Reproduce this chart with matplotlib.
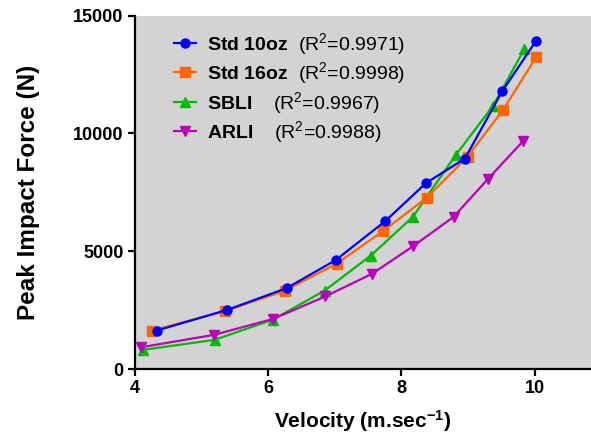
import matplotlib
matplotlib.use("Agg")
import matplotlib.pyplot as plt

plt.rcParams['font.family'] = ['Liberation Sans', 'DejaVu Sans']
plt.rcParams['mathtext.fontset'] = 'custom'
plt.rcParams['mathtext.rm'] = 'Liberation Sans'
plt.rcParams['mathtext.bf'] = 'Liberation Sans:bold'
plt.rcParams['mathtext.it'] = 'Liberation Sans:italic'

std10_v = [4.33, 5.39, 6.28, 7.02, 7.76, 8.37, 8.95, 9.51, 10.02]
std10_f = [1640, 2520, 3440, 4640, 6290, 7900, 8930, 11790, 13940]
std16_v = [4.26, 5.36, 6.25, 7.03, 7.72, 8.38, 8.99, 9.52, 10.02]
std16_f = [1640, 2470, 3330, 4480, 5850, 7280, 9010, 10990, 13240]
sbli_v = [4.12, 5.20, 6.07, 6.85, 7.54, 8.17, 8.81, 9.37, 9.84]
sbli_f = [820, 1250, 2100, 3340, 4820, 6460, 9070, 11160, 13570]
arli_v = [4.09, 5.19, 6.07, 6.86, 7.56, 8.17, 8.78, 9.29, 9.82]
arli_f = [930, 1460, 2130, 3090, 4050, 5210, 6460, 8050, 9670]

labels = [r"$\mathbf{Std\ 10oz}$  (R$^{2}$=0.9971)",
          r"$\mathbf{Std\ 16oz}$  (R$^{2}$=0.9998)",
          r"$\mathbf{SBLI}$    (R$^{2}$=0.9967)",
          r"$\mathbf{ARLI}$    (R$^{2}$=0.9988)"]
xticks = [4, 6, 8, 10]
yticks = [0, 5000, 10000, 15000]

fig = plt.figure(figsize=(5.91, 4.34), dpi=100)
ax = fig.add_axes([134.5/591, 1 - 369.3/434, 1 - 134.5/591, (369.3 - 15.5)/434])
ax.set_facecolor('#d3d3d3')

ax.plot(std10_v, std10_f, color='#0000ff', marker='o', ms=6.5, lw=1.6, label=labels[0], zorder=5)
ax.plot(std16_v, std16_f, color='#ff6600', marker='s', ms=6.5, lw=1.6, label=labels[1], zorder=4)
ax.plot(sbli_v, sbli_f, color='#00bb00', marker='^', ms=6.5, lw=1.6, label=labels[2], zorder=3)
ax.plot(arli_v, arli_f, color='#bb00bb', marker='v', ms=6.5, lw=1.6, label=labels[3], zorder=3)

ax.set_xlim(4, 10.84)
ax.set_ylim(0, 15000)
ax.set_xticks(xticks)
ax.set_yticks(yticks)
for s in ['top', 'right']:
    ax.spines[s].set_visible(False)
for s in ['left', 'bottom']:
    ax.spines[s].set_linewidth(1.6)
ax.tick_params(direction='out', length=5, width=1.6, pad=3)
for lab in ax.get_xticklabels() + ax.get_yticklabels():
    lab.set_fontweight('bold')
    lab.set_fontsize(13)

ax.set_xlabel(r"Velocity (m.sec$^{\mathbf{-1}}$)", fontsize=15, fontweight='bold', labelpad=8)
ax.set_ylabel("Peak Impact Force (N)", fontsize=17.5, fontweight='bold', labelpad=24)

leg = ax.legend(loc='upper left', bbox_to_anchor=(0.049, 1.006), frameon=False,
                fontsize=14, handlelength=1.1, labelspacing=0.18, handletextpad=0.6)

fig.savefig("out.png", dpi=100)
